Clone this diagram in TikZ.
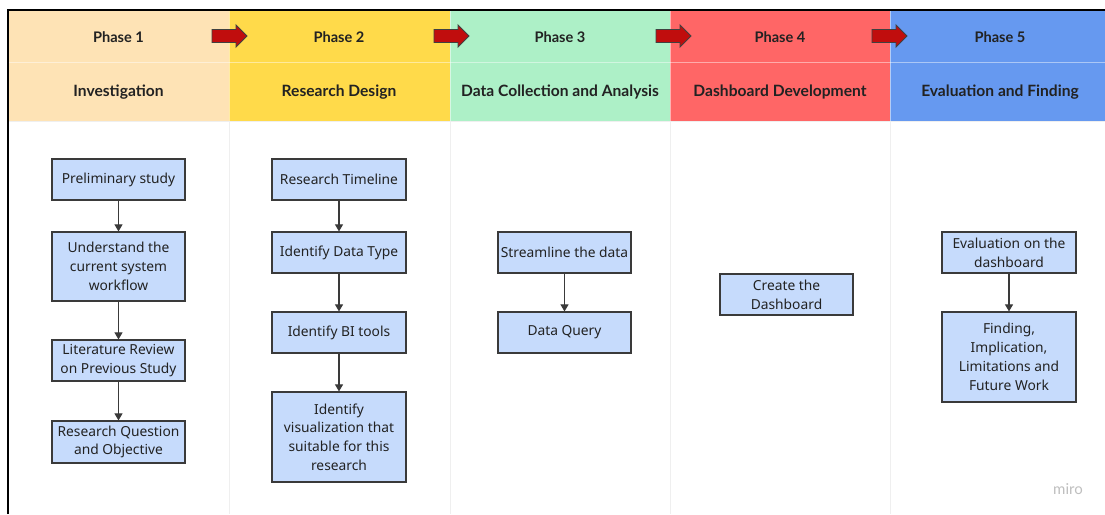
\documentclass[tikz,border=0pt]{standalone}
\usepackage{fontspec}
\setmainfont{Noto Sans}
\newfontfamily\headfont{Lato}
\usetikzlibrary{arrows.meta}
\definecolor{pone}{HTML}{FEE3B5}
\definecolor{ptwo}{HTML}{FFDA4A}
\definecolor{pthree}{HTML}{ADF0C7}
\definecolor{pfour}{HTML}{FF6666}
\definecolor{pfive}{HTML}{6699F0}
\definecolor{boxfill}{HTML}{C6DBFC}
\definecolor{boxline}{HTML}{3A3A3A}
\definecolor{divider}{HTML}{EFEFEF}
\definecolor{arrowred}{HTML}{C00D0D}
\definecolor{textdark}{HTML}{222222}
\tikzset{
  stepbox/.style={draw=boxline, line width=1.2pt, fill=boxfill, text=textdark,
    align=center, inner sep=1pt, font=\fontsize{13.8}{18.8}\selectfont},
  headtext/.style={text=textdark, font=\headfont\bfseries\fontsize{15.6}{18}\selectfont},
  phasetext/.style={text=textdark, font=\headfont\bfseries\fontsize{14.6}{17}\selectfont},
  link/.style={draw=boxline, line width=1.1pt, -{Triangle[length=7pt,width=8pt]}},
  phasearrow/.style={fill=arrowred, draw=black!75, line width=0.9pt, line join=miter},
}
\begin{document}
\begin{tikzpicture}[x=1pt,y=-1pt]
\useasboundingbox (0,0) rectangle (1105,514);
\fill[white] (0,0) rectangle (1105,514);
% header backgrounds
\fill[pone] (8,10) rectangle (229,121);
\fill[ptwo] (229,10) rectangle (450,121);
\fill[pthree] (450,10) rectangle (670,121);
\fill[pfour] (670,10) rectangle (890,121);
\fill[pfive] (890,10) rectangle (1105,121);
% row separator in header
\draw[white, opacity=0.45, line width=0.8pt] (8,62) -- (1105,62);
% column dividers
\foreach \xx in {229,450,670,890}{
  \draw[divider, line width=0.8pt] (\xx,121) -- (\xx,514);
  \draw[white, opacity=0.5, line width=0.6pt] (\xx,10) -- (\xx,121);
}
\draw[divider, line width=0.8pt] (8,121.5) -- (1105,121.5);
% outer border
\draw[black, line width=2pt] (8,514) -- (8,10) -- (1105,10);
% header texts
\node[phasetext] (h1) at (118.5,37) {Phase 1};
\node[phasetext] (h2) at (339,37) {Phase 2};
\node[phasetext] (h3) at (560,37) {Phase 3};
\node[phasetext] (h4) at (780,37) {Phase 4};
\node[phasetext] (h5) at (1000,37) {Phase 5};
\node[headtext] (t1) at (118.5,92.5) {Investigation};
\node[headtext] (t2) at (339,92.5) {Research Design};
\node[headtext] (t3) at (560,92.5) {Data Collection and Analysis};
\node[headtext] (t4) at (780,92.5) {Dashboard Development};
\node[headtext] (t5) at (1000,92.5) {Evaluation and Finding};
% phase arrows
\foreach \ax in {212,434,656,872}{
  \draw[phasearrow] (\ax,29.5) -- ++(24,0) -- ++(0,-4.5) -- ++(11,11) -- ++(-11,11) -- ++(0,-4.5) -- ++(-24,0) -- cycle;
}
% Phase 1 boxes
\node[stepbox, minimum width=133pt, minimum height=41pt] (p1a) at (118.5,179.5) {Preliminary study};
\node[stepbox, minimum width=133pt, minimum height=69pt] (p1b) at (118.5,266.5) {Understand the\\current system\\workflow};
\node[stepbox, minimum width=133pt, minimum height=41pt] (p1c) at (118.5,360.5) {Literature Review\\on Previous Study};
\node[stepbox, minimum width=133pt, minimum height=42pt] (p1d) at (118.5,442) {Research Question\\and Objective};
% Phase 2 boxes
\node[stepbox, minimum width=134pt, minimum height=41pt] (p2a) at (339,179.5) {Research Timeline};
\node[stepbox, minimum width=134pt, minimum height=41pt] (p2b) at (339,252.5) {Identify Data Type};
\node[stepbox, minimum width=134pt, minimum height=41pt] (p2c) at (339,332.5) {Identify BI tools};
\node[stepbox, minimum width=134pt, minimum height=90pt] (p2d) at (339,437) {Identify\\visualization that\\suitable for this\\research};
% Phase 3 boxes
\node[stepbox, minimum width=133pt, minimum height=41pt] (p3a) at (564.5,252.5) {Streamline the data};
\node[stepbox, minimum width=133pt, minimum height=41pt] (p3b) at (564.5,332.5) {Data Query};
% Phase 4 box
\node[stepbox, minimum width=133pt, minimum height=41pt] (p4a) at (786.5,294.5) {Create the\\Dashboard};
% Phase 5 boxes
\node[stepbox, minimum width=134pt, minimum height=41pt] (p5a) at (1009,252.5) {Evaluation on the\\dashboard};
\node[stepbox, minimum width=134pt, minimum height=90pt] (p5b) at (1009,357) {Finding,\\Implication,\\Limitations and\\Future Work};
% connectors
\draw[link] (p1a) -- (p1b);
\draw[link] (p1b) -- (p1c);
\draw[link] (p1c) -- (p1d);
\draw[link] (p2a) -- (p2b);
\draw[link] (p2b) -- (p2c);
\draw[link] (p2c) -- (p2d);
\draw[link] (p3a) -- (p3b);
\draw[link] (p5a) -- (p5b);
% watermark
\node[text=black!25, font=\headfont\fontsize{15}{17}\selectfont] (wm) at (1068,489) {miro};
\end{tikzpicture}
\end{document}
